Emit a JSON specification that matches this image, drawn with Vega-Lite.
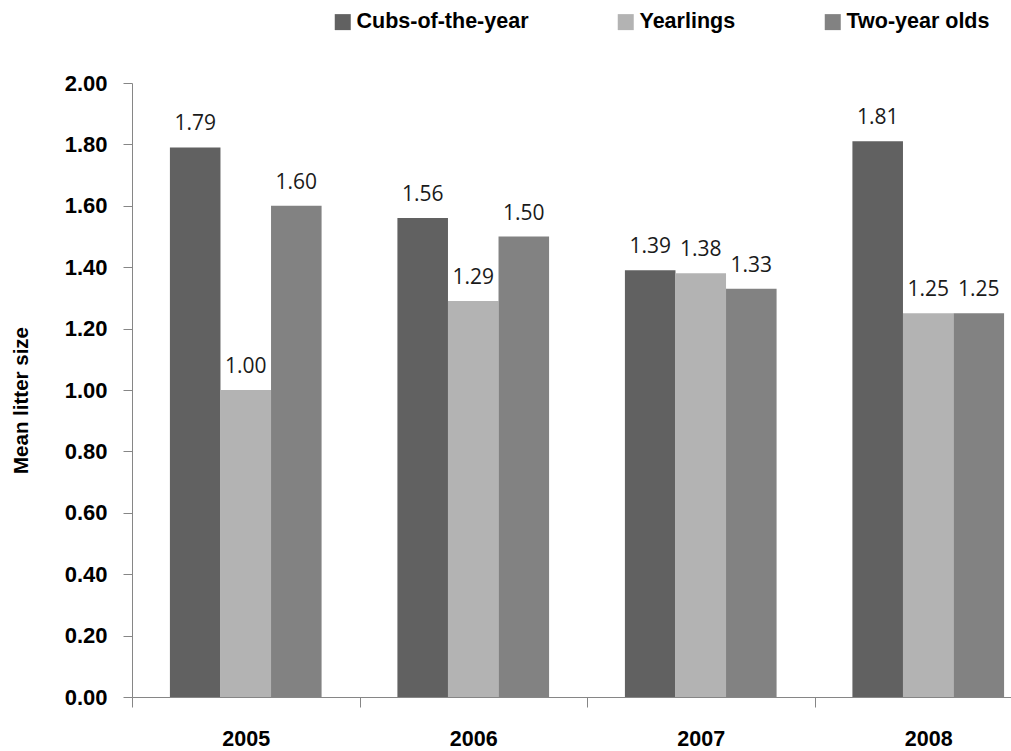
{
  "$schema": "https://vega.github.io/schema/vega-lite/v6.json",
  "width": 879,
  "height": 614,
  "autosize": "none",
  "padding": {"left": 132, "top": 83, "right": 0, "bottom": 54},
  "background": "white",
  "config": {"view": {"stroke": null}},
  "data": {
    "values": [
      {"year": "2005", "group": "Cubs-of-the-year", "value": 1.79},
      {"year": "2005", "group": "Yearlings", "value": 1.00},
      {"year": "2005", "group": "Two-year olds", "value": 1.60},
      {"year": "2006", "group": "Cubs-of-the-year", "value": 1.56},
      {"year": "2006", "group": "Yearlings", "value": 1.29},
      {"year": "2006", "group": "Two-year olds", "value": 1.50},
      {"year": "2007", "group": "Cubs-of-the-year", "value": 1.39},
      {"year": "2007", "group": "Yearlings", "value": 1.38},
      {"year": "2007", "group": "Two-year olds", "value": 1.33},
      {"year": "2008", "group": "Cubs-of-the-year", "value": 1.81},
      {"year": "2008", "group": "Yearlings", "value": 1.25},
      {"year": "2008", "group": "Two-year olds", "value": 1.25}
    ]
  },
  "encoding": {
    "x": {
      "field": "year",
      "type": "nominal",
      "scale": {"paddingInner": 0, "paddingOuter": 0, "range": [0, 910]},
      "axis": {
        "title": null,
        "labelAngle": 0,
        "domainColor": "#868686",
        "tickColor": "#868686",
        "tickSize": 10,
        "tickBand": "extent",
        "labelFont": "Liberation Sans",
        "labelFontWeight": "bold",
        "labelFontSize": 21.5,
        "labelColor": "#000000",
        "labelPadding": 21
      }
    },
    "xOffset": {
      "field": "group",
      "sort": ["Cubs-of-the-year", "Yearlings", "Two-year olds"],
      "scale": {"paddingInner": 0, "paddingOuter": 0.75}
    },
    "y": {
      "field": "value",
      "type": "quantitative",
      "scale": {"domain": [0, 2], "nice": false},
      "axis": {
        "title": "Mean litter size",
        "titleFont": "Liberation Sans",
        "titleFontWeight": "bold",
        "titleFontSize": 20.5,
        "titleColor": "#000000",
        "titleBaseline": "alphabetic",
        "titleAngle": 270,
        "titleX": -105,
        "titleY": 317,
        "values": [0, 0.2, 0.4, 0.6, 0.8, 1.0, 1.2, 1.4, 1.6, 1.8, 2.0],
        "format": ".2f",
        "grid": false,
        "domainColor": "#868686",
        "tickColor": "#868686",
        "tickSize": 9,
        "labelFont": "Liberation Sans",
        "labelFontWeight": "bold",
        "labelFontSize": 22,
        "labelColor": "#000000",
        "labelPadding": 16
      }
    }
  },
  "layer": [
    {
      "mark": {"type": "bar"},
      "encoding": {
        "color": {
          "field": "group",
          "type": "nominal",
          "sort": ["Cubs-of-the-year", "Yearlings", "Two-year olds"],
          "scale": {
            "domain": ["Cubs-of-the-year", "Yearlings", "Two-year olds"],
            "range": ["#616161", "#b3b3b3", "#828282"]
          },
          "legend": {
            "orient": "none",
            "legendX": 200,
            "legendY": -72,
            "direction": "horizontal",
            "title": null,
            "symbolType": "square",
            "symbolSize": 256,
            "symbolStrokeWidth": 0,
            "symbolOpacity": 1,
            "labelFont": "Liberation Sans",
            "labelFontWeight": "bold",
            "labelFontSize": 21.5,
            "labelColor": "#000000",
            "labelOffset": 3,
            "columnPadding": 86,
            "labelLimit": 400
          }
        }
      }
    },
    {
      "mark": {"type": "text", "baseline": "alphabetic", "dy": -17, "font": "Open Sans", "fontSize": 21, "color": "#1a1a1a"},
      "encoding": {"text": {"field": "value", "type": "quantitative", "format": ".2f"}}
    }
  ]
}
